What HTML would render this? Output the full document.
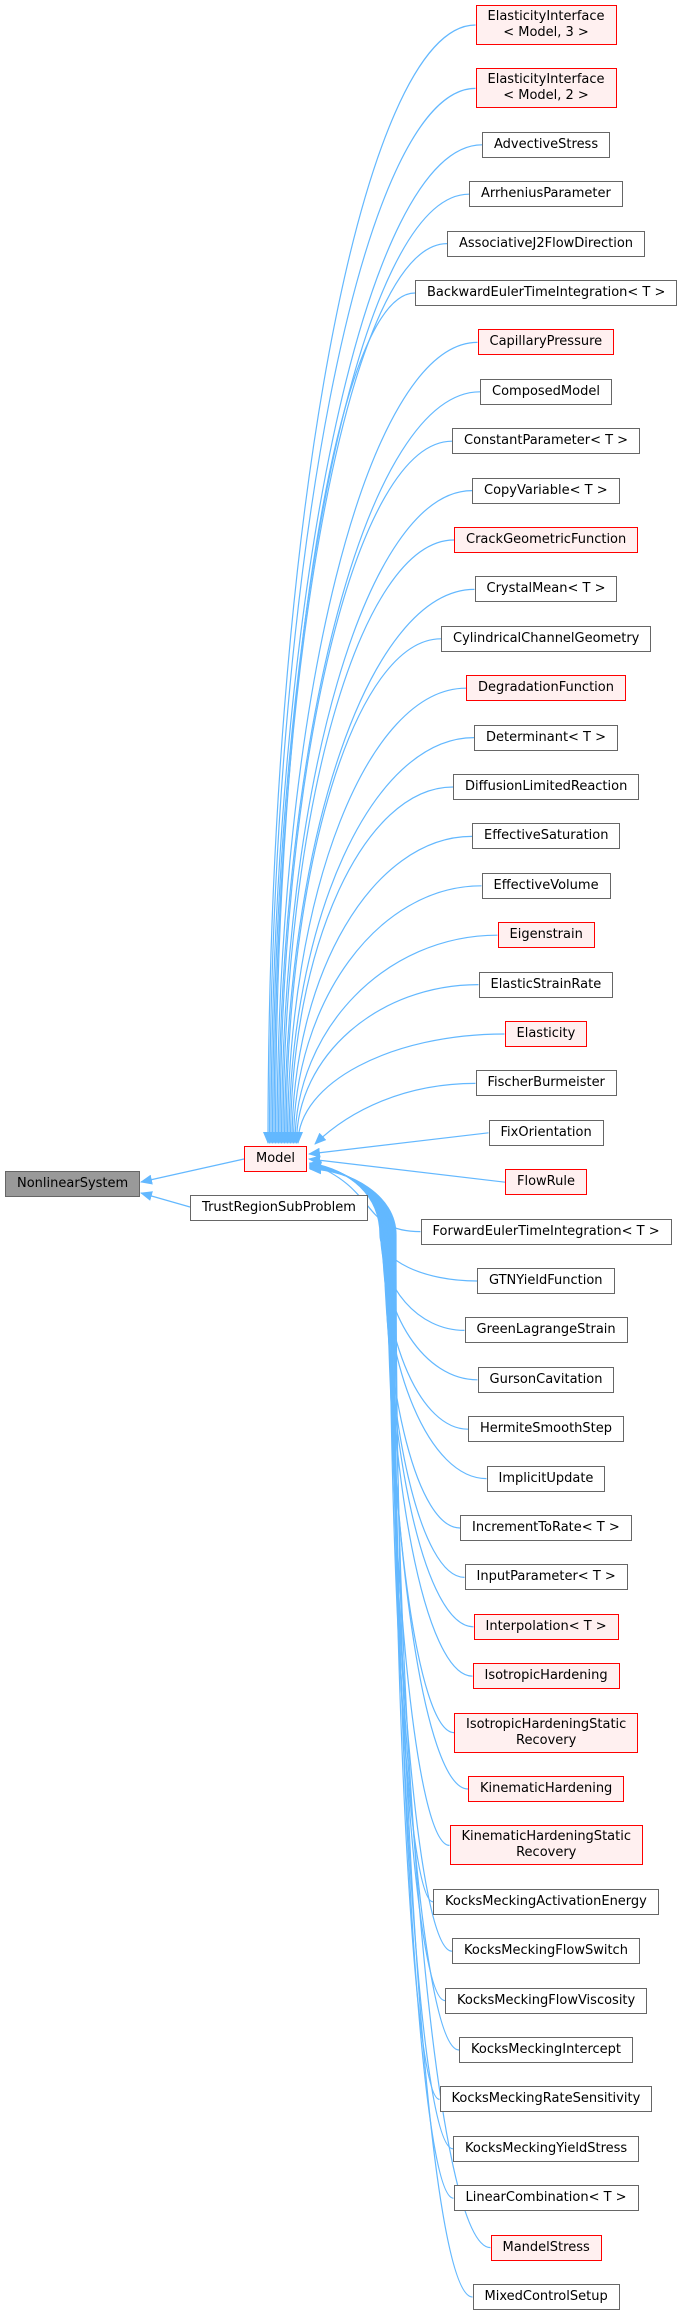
<!DOCTYPE html>
<html><head><meta charset="utf-8">
<style>
html,body{margin:0;padding:0;background:#fff;}
body{width:679px;height:2318px;position:relative;overflow:hidden;font-family:"DejaVu Sans","Liberation Sans",sans-serif;}
.n{position:absolute;box-sizing:border-box;border:1.5px solid #666;background:#fff;font-size:13px;color:#000;text-align:center;white-space:nowrap;padding:0 11px;line-height:23px;height:26px;}
.n.t{height:40px;line-height:16px;padding-top:3px;}
.r{border-color:#f00;background:#fff0f0;}
svg{position:absolute;left:0;top:0;}
</style></head><body>
<svg id="s" width="679" height="2318" viewBox="0 0 679 2318">
<defs><marker id="a" markerUnits="userSpaceOnUse" markerWidth="12" markerHeight="10" refX="11" refY="5" orient="auto"><path d="M0,0 L12,5 L0,10 z" fill="#63b8ff"/></marker></defs>
<g id="g" fill="none" stroke="#63b8ff" stroke-width="1.2"></g>
</svg>
<div class="n" style="left:5px;top:1171px;width:135px;background:#999;border-color:#666;">NonlinearSystem</div>
<div class="n r" style="left:244px;top:1146px;width:63px;">Model</div>
<div class="n" style="left:190px;top:1195px;width:178px;">TrustRegionSubProblem</div>
<div id="c"></div>
<script>
var items=[
["ElasticityInterface<br>&lt; Model, 3 &gt;",1,1],
["ElasticityInterface<br>&lt; Model, 2 &gt;",1,1],
["AdvectiveStress",0,0],["ArrheniusParameter",0,0],["AssociativeJ2FlowDirection",0,0],
["BackwardEulerTimeIntegration&lt; T &gt;",0,0],["CapillaryPressure",1,0],["ComposedModel",0,0],
["ConstantParameter&lt; T &gt;",0,0],["CopyVariable&lt; T &gt;",0,0],["CrackGeometricFunction",1,0],
["CrystalMean&lt; T &gt;",0,0],["CylindricalChannelGeometry",0,0],["DegradationFunction",1,0],
["Determinant&lt; T &gt;",0,0],["DiffusionLimitedReaction",0,0],["EffectiveSaturation",0,0],
["EffectiveVolume",0,0],["Eigenstrain",1,0],["ElasticStrainRate",0,0],["Elasticity",1,0],
["FischerBurmeister",0,0],["FixOrientation",0,0],["FlowRule",1,0],
["ForwardEulerTimeIntegration&lt; T &gt;",0,0],["GTNYieldFunction",0,0],["GreenLagrangeStrain",0,0],
["GursonCavitation",0,0],["HermiteSmoothStep",0,0],["ImplicitUpdate",0,0],["IncrementToRate&lt; T &gt;",0,0],
["InputParameter&lt; T &gt;",0,0],["Interpolation&lt; T &gt;",1,0],["IsotropicHardening",1,0],
["IsotropicHardeningStatic<br>Recovery",1,1],["KinematicHardening",1,0],["KinematicHardeningStatic<br>Recovery",1,1],
["KocksMeckingActivationEnergy",0,0],["KocksMeckingFlowSwitch",0,0],["KocksMeckingFlowViscosity",0,0],
["KocksMeckingIntercept",0,0],["KocksMeckingRateSensitivity",0,0],["KocksMeckingYieldStress",0,0],
["LinearCombination&lt; T &gt;",0,0],["MandelStress",1,0],["MixedControlSetup",0,0]];
var c=document.getElementById('c'),g=document.getElementById('g');
var y=5,CX=546;var nodes=[];
items.forEach(function(it,i){
 var d=document.createElement('div');d.className='n'+(it[1]?' r':'')+(it[2]?' t':'');
 d.innerHTML=it[0];d.style.top=y+'px';c.appendChild(d);
 var w=d.offsetWidth;d.style.left=(CX-w/2)+'px';
 var h=it[2]?40:26;nodes.push({L:CX-w/2,m:y+h/2});
 y+=h+23.4;
});
function P(dd){var p=document.createElementNS('http://www.w3.org/2000/svg','path');p.setAttribute('d',dd);p.setAttribute('marker-end','url(#a)');g.appendChild(p);}
var MT=1146,MB=1171,MR=307;
nodes.forEach(function(n,i){
 var L=n.L,yy=n.m,d;
 if(i<=20){
  var k=i/20;var xe=268+k*30;var dy=MT-3-yy;
  d='M'+L+','+yy+' C'+(L-(L-xe)*0.55)+','+yy+' '+xe+','+(yy+dy*0.45)+' '+xe+','+(MT-3);
 } else if(i==21){d='M'+L+','+yy+' C'+(L-70)+','+yy+' 350,1110 '+(MR+8)+','+(MT-2);}
 else if(i==22){d='M'+L+','+yy+' L'+(MR+2)+',1154';}
 else if(i==23){d='M'+L+','+yy+' L'+(MR+2)+',1159';}
 else if(i==24){d='M'+L+','+yy+' C'+(L-60)+','+yy+' 380,1190 '+(MR+3)+',1163';}
 else { var k=(i-25)/20;var xv=380+k*16;var ye=1163+k*6;var yb=1235;var dy=yy-yb;
  d='M'+L+','+yy+' C'+(L-(L-xv)*0.55)+','+yy+' '+xv+','+(yy-dy*0.45)+' '+xv+','+yb+' C'+xv+',1195 350,1170 '+(MR+3)+','+ye;
 }
 P(d);
});
P('M244,1159 L141,1182');
P('M190,1207 L141,1193');
</script>
</body></html>
